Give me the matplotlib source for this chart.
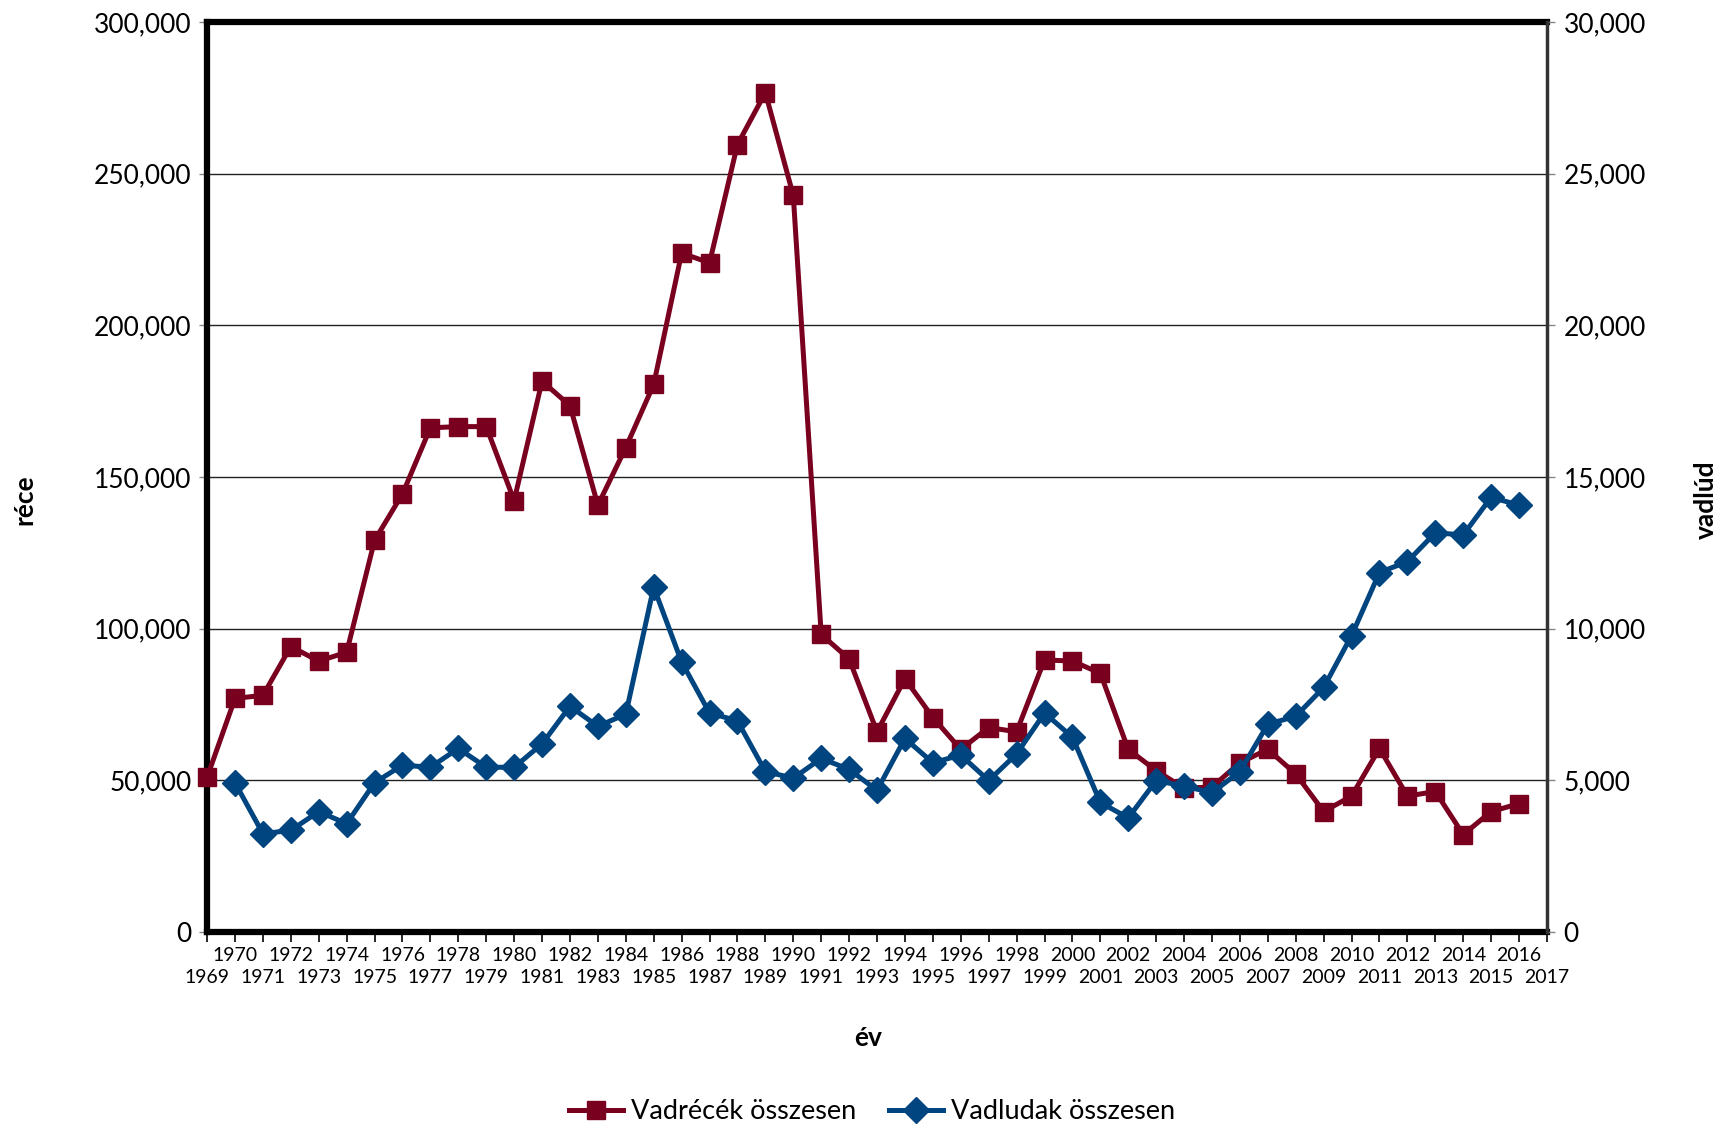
import matplotlib.pyplot as plt
from matplotlib.ticker import FuncFormatter

plt.rcParams['font.family'] = ['Lato', 'DejaVu Sans']

# réce (left axis), 1969-2016
rece_years = list(range(1969, 2017))
rece = [51000, 77000, 78000, 94100, 89300, 92200, 129100, 144400, 166200, 166600,
        166600, 142200, 181600, 173500, 140700, 159700, 180500, 223800, 220600, 259600,
        276700, 242800, 98100, 90000, 66000, 83500, 70700, 60200, 67400, 66000,
        89700, 89300, 85300, 60200, 53200, 47400, 47800, 55800, 60200, 52100,
        39700, 44800, 60500, 44800, 46300, 32100, 39700, 42300]

# vadlúd (right axis), 1970-2016
lud_years = list(range(1970, 2017))
lud = [4920, 3240, 3350, 3970, 3570, 4920, 5500, 5430, 6050, 5430,
       5430, 6200, 7440, 6780, 7180, 11370, 8900, 7220, 6960, 5290,
       5070, 5720, 5360, 4670, 6380, 5580, 5830, 4990, 5870, 7220,
       6420, 4270, 3760, 4990, 4810, 4590, 5290, 6850, 7110, 8060,
       9770, 11850, 12210, 13160, 13090, 14330, 14070]

even_years = list(range(1970, 2017, 2))
odd_years = list(range(1969, 2018, 2))
red = '#7a0020'
blue = '#00457f'

fig = plt.figure(figsize=(17.3, 11.32), dpi=100)
ax = fig.add_axes([0.1197, 0.1767, 0.7745, 0.8039])
ax2 = ax.twinx()

l1, = ax.plot(rece_years, rece, color=red, lw=3.6, marker='s', ms=13, clip_on=False,
              label='Vadrécék összesen', zorder=3)
l2, = ax2.plot(lud_years, lud, color=blue, lw=3.6, marker='D', ms=13, clip_on=False,
               label='Vadludak összesen', zorder=3)

ax.set_xlim(1969, 2017)
ax.set_ylim(0, 300000)
ax2.set_ylim(0, 30000)
ax.set_yticks(range(0, 300001, 50000))
ax2.set_yticks(range(0, 30001, 5000))
fmt = FuncFormatter(lambda v, p: '{:,.0f}'.format(v))
ax.yaxis.set_major_formatter(fmt)
ax2.yaxis.set_major_formatter(fmt)

# even years on the upper row, odd years on the lower row
ax.set_xticks(even_years)
ax.set_xticklabels([str(y) for y in even_years])
ax.set_xticks(odd_years, minor=True)
ax.set_xticklabels([str(y) for y in odd_years], minor=True)

ax.grid(axis='y', color='#222222', lw=1)
ax.set_axisbelow(True)

ax.tick_params(axis='x', which='both', direction='out', length=7, width=1.2, labelsize=14, color='black')
ax.tick_params(axis='x', which='major', pad=4)
ax.tick_params(axis='x', which='minor', pad=20)
ax.tick_params(axis='y', direction='out', length=6, width=1, labelsize=19, pad=5, color='#888888')
ax2.tick_params(axis='y', direction='out', length=6, width=1, labelsize=19, pad=6, color='#888888')

for s in ['left', 'top', 'bottom']:
    ax.spines[s].set_linewidth(4.5)
    ax.spines[s].set_color('black')
ax.spines['right'].set_visible(False)
for s in ['left', 'top', 'bottom']:
    ax2.spines[s].set_visible(False)
ax2.spines['right'].set_linewidth(2.5)
ax2.spines['right'].set_color('#333333')

fig.text(0.014, 0.559, 'réce', rotation=90, fontsize=19, fontweight='bold', ha='center', va='center')
fig.text(0.986, 0.559, 'vadlúd', rotation=90, fontsize=19, fontweight='bold', ha='center', va='center')
fig.text(0.502, 0.083, 'év', fontsize=19, fontweight='bold', ha='center', va='center')

fig.legend(handles=[l1, l2], loc='center', bbox_to_anchor=(0.504, 0.018), ncol=2,
           frameon=False, fontsize=19.5, handlelength=2.0, columnspacing=1.2, handletextpad=0.3)

fig.savefig('out.png', dpi=100)
